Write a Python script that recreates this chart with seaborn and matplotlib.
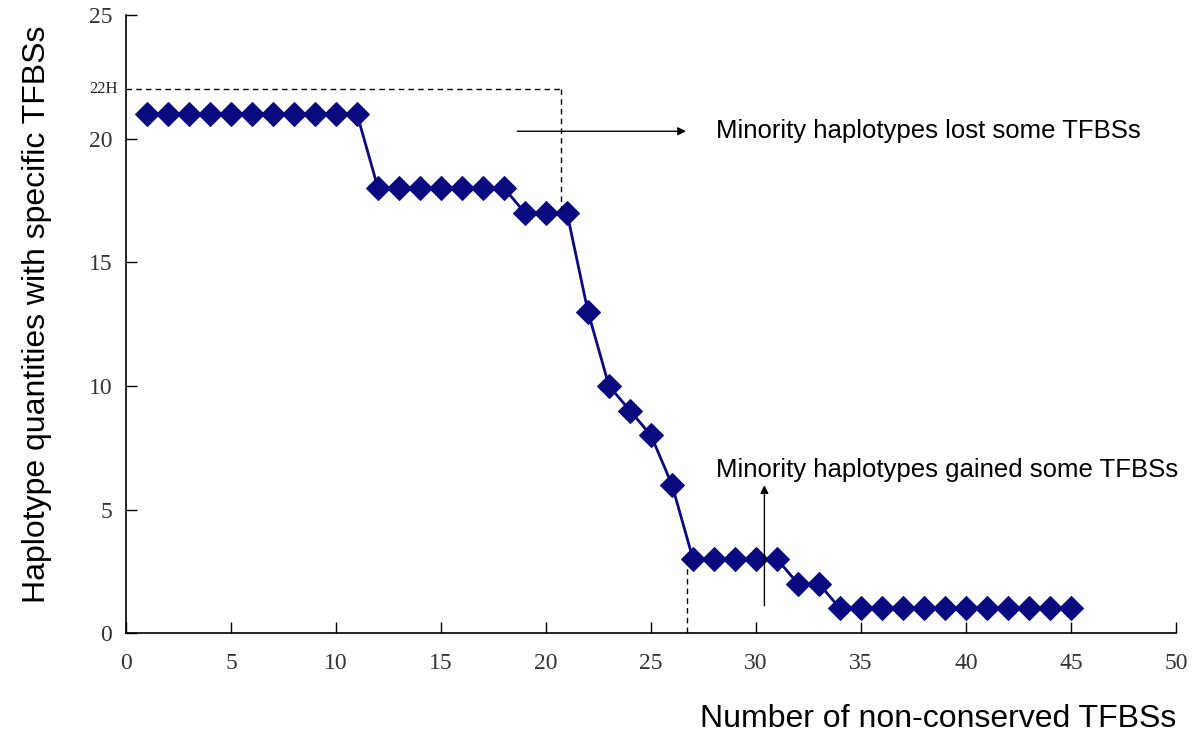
import matplotlib
matplotlib.use("Agg")
import matplotlib.pyplot as plt
import numpy as np
import pandas as pd
import seaborn as sns

# Data
n_nonconserved = list(range(1, 46))
haplotypes = [21] * 11 + [18] * 7 + [17] * 3 + [13, 10, 9, 8, 6] + [3] * 5 + [2] * 2 + [1] * 12
x_ticks = [0, 5, 10, 15, 20, 25, 30, 35, 40, 45, 50]
y_ticks = [0, 5, 10, 15, 20, 25]

NAVY = "#0a0a80"
DPI = 100
SERIF = ["Liberation Serif", "DejaVu Serif"]

sns.set_style("white")
plt.rcParams["font.family"] = ["Liberation Sans", "DejaVu Sans"]
plt.rcParams["text.color"] = "black"
plt.rcParams["axes.labelcolor"] = "black"

df = pd.DataFrame({"x": n_nonconserved, "y": haplotypes})

fig = plt.figure(figsize=(1200 / DPI, 752 / DPI), dpi=DPI)
ax = fig.add_axes([0.105, 0.158, 0.875, 0.822])

sns.lineplot(
    data=df, x="x", y="y", ax=ax, color=NAVY, lw=2,
    marker="D", markersize=12, markeredgecolor=NAVY, markerfacecolor=NAVY,
)

# dashed guide lines
ax.plot([0, 20.7], [22, 22], color="black", lw=1, ls=(0, (4, 3)))
ax.plot([20.7, 20.7], [22, 17], color="black", lw=1, ls=(0, (4, 3)))
ax.plot([26.7, 26.7], [3, 0], color="black", lw=1, ls=(0, (4, 3)))
ax.text(-0.4, 22, "22H", ha="right", va="center", fontsize=12, family=SERIF, color="#222222")

# annotations
ax.annotate("", xy=(26.8, 20.3), xytext=(18.5, 20.3),
            arrowprops=dict(arrowstyle="-|>", color="black", lw=1, mutation_scale=12))
ax.text(28.1, 20.3, "Minority haplotypes lost some TFBSs", ha="left", va="center", fontsize=18.5)
ax.annotate("", xy=(30.4, 6.1), xytext=(30.4, 1.0),
            arrowprops=dict(arrowstyle="-|>", color="black", lw=1, mutation_scale=12))
ax.text(28.1, 6.6, "Minority haplotypes gained some TFBSs", ha="left", va="center", fontsize=18.5)

ax.set_xlim(0, 50)
ax.set_ylim(0, 25)
ax.set_xticks(x_ticks)
ax.set_yticks(y_ticks)
ax.tick_params(axis="both", direction="in", length=8, width=1, colors="black",
               labelsize=17, pad=14, bottom=True, left=True)
for lab in ax.get_xticklabels() + ax.get_yticklabels():
    lab.set_family(SERIF)
    lab.set_color("#333333")
ax.tick_params(axis="y", pad=10)

for side in ["top", "right"]:
    ax.spines[side].set_visible(False)
for side in ["left", "bottom"]:
    ax.spines[side].set_color("black")
    ax.spines[side].set_linewidth(1.2)

ax.set_xlabel("Number of non-conserved TFBSs", fontsize=23, ha="right")
ax.xaxis.set_label_coords(1.0, -0.115)
ax.set_ylabel("Haplotype quantities with specific TFBSs", fontsize=23)
ax.yaxis.set_label_coords(-0.07, 0.516)

fig.savefig("out.png", dpi=DPI)
